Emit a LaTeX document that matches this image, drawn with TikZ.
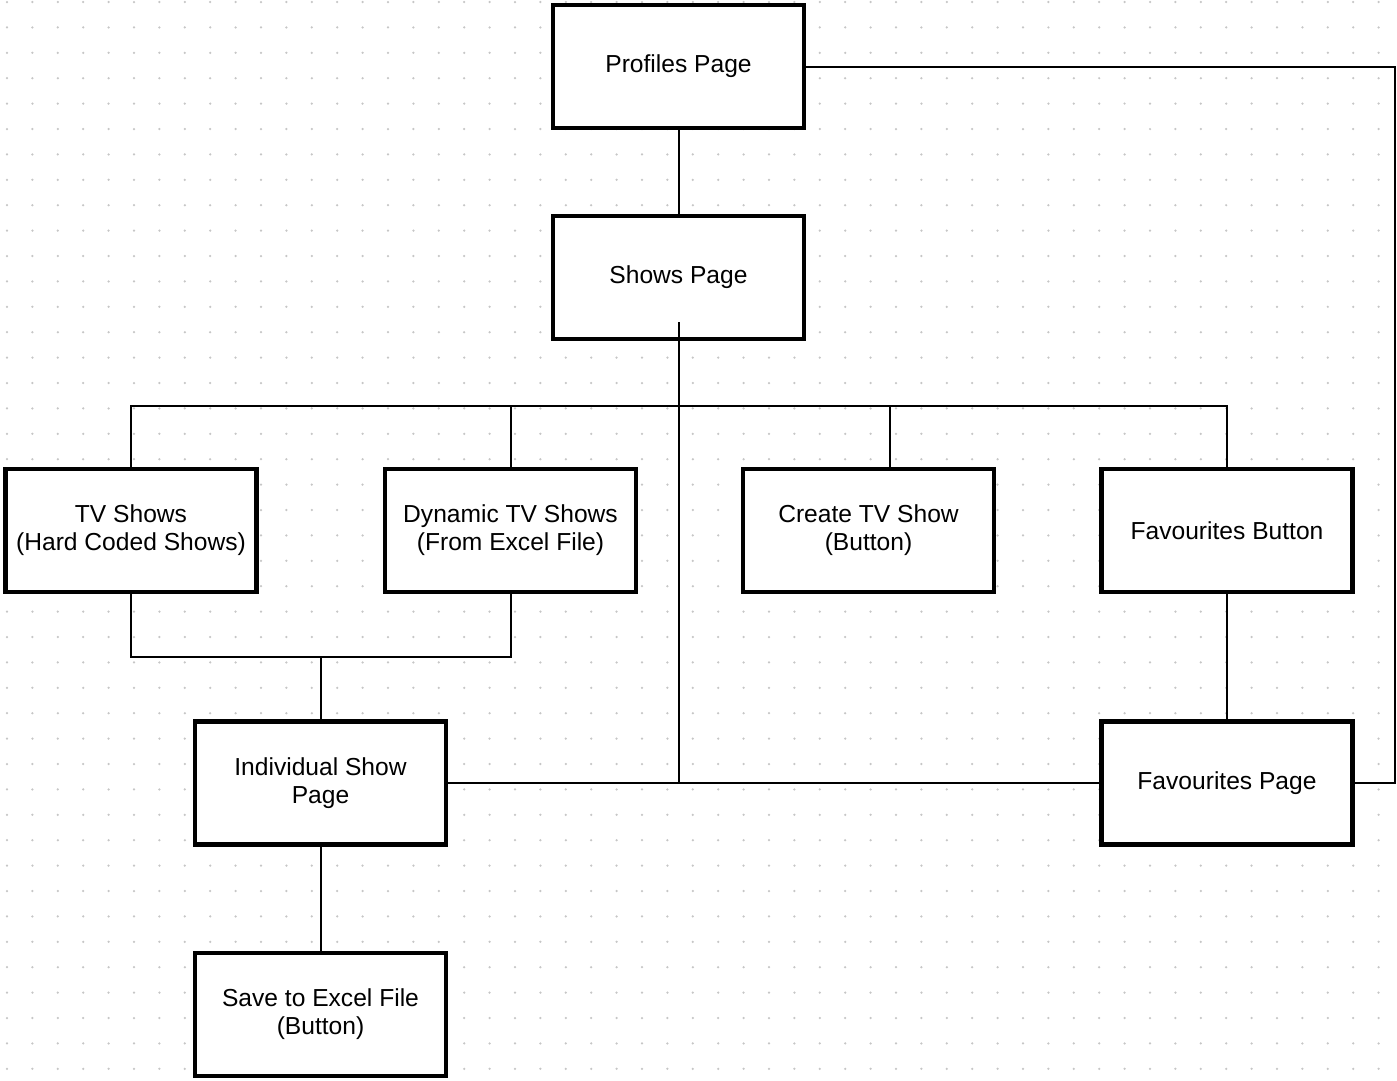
\documentclass[tikz,border=0pt]{standalone}
\usepackage{fontspec}
\setmainfont{Liberation Sans}
\tikzset{
	page/.style={draw, line width=0.09cm, fill=white, minimum width=5.02cm, minimum height=2.46cm, align=center, font=\fontsize{14}{16}\selectfont},
	link/.style={line width=0.04cm}
}
\begin{document}
\begin{tikzpicture}[x=0.02cm, y=-0.02cm]
	\useasboundingbox (0,0) rectangle (1397,1080);
	\fill[white] (0,0) rectangle (1397,1080);
	\foreach \i in {0,...,54}
		\foreach \j in {0,...,42}
			\fill[gray!45] (7+25.4*\i, 2+25.4*\j) circle (0.025cm);

	\node[page] (prof) at (678.5,66.5) {Profiles Page};
	\node[page] (shows) at (678.5,277.5) {Shows Page};
	\node[page] (tv) at (131,530.5) {TV Shows\\(Hard Coded Shows)};
	\node[page] (dyn) at (510.5,530.5) {Dynamic TV Shows\\(From Excel File)};
	\node[page] (create) at (868.5,530.5) {Create TV Show\\(Button)};
	\node[page] (favb) at (1227,530.5) {Favourites Button};
	\node[page] (indiv) at (320.5,783) {Individual Show\\Page};
	\node[page] (favp) at (1227,783) {Favourites Page};
	\node[page] (save) at (320.5,1014.5) {Save to Excel File\\(Button)};

	\coordinate (bus) at (680,406);
	\coordinate (merge) at (320.5,657);
	\coordinate (edge) at (1395,783);

	\draw[link] (prof) -- (shows);
	\draw[link] (tv.north) |- (bus) -| (favb.north);
	\draw[link] (dyn.north) -- (dyn.north |- bus);
	\draw[link] ([xshift=0.43cm]create.north) -- ([xshift=0.43cm]create.north |- bus);
	\draw[link] ([yshift=0.38cm]shows.south) -- (shows.south |- indiv.east);
	\draw[link] (tv.south) |- (merge) -| (dyn.south);
	\draw[link] (merge) -- (indiv.north);
	\draw[link] (indiv.east) -- (favp.west);
	\draw[link] (favb) -- (favp);
	\draw[link] (prof.east) -| (edge) -- (favp.east);
	\draw[link] (indiv) -- (save);
\end{tikzpicture}
\end{document}
